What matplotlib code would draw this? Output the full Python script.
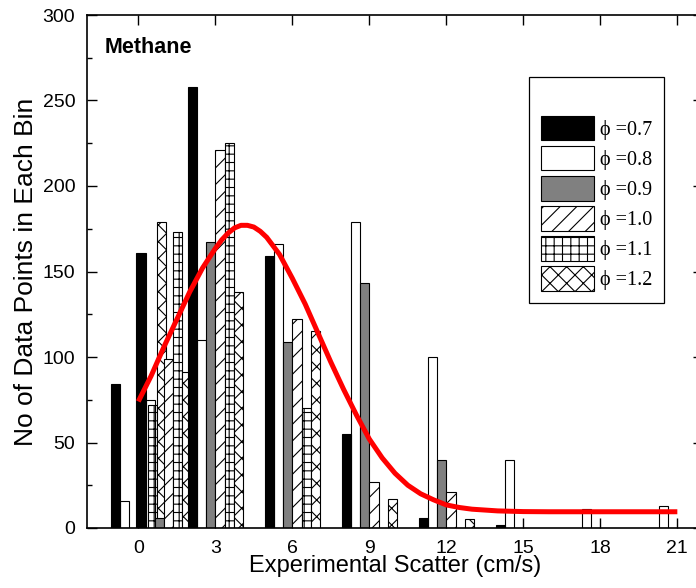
import matplotlib
matplotlib.use("Agg")
import matplotlib.pyplot as plt
from matplotlib.patches import Patch
import numpy as np

plt.rcParams['font.family'] = ['Liberation Sans', 'DejaVu Sans']
plt.rcParams['hatch.linewidth'] = 0.8

# ---- data ----
bins = [0, 1, 3, 6, 9, 12, 15, 18, 21]
series_labels = ["\u03d5 =0.7", "\u03d5 =0.8", "\u03d5 =0.9", "\u03d5 =1.0", "\u03d5 =1.1", "\u03d5 =1.2"]
phi07 = [84, 161, 258, 159, 55, 6, 2, 0, 0]
phi08 = [16, 75, 110, 166, 179, 100, 40, 11, 13]
phi09 = [0, 6, 167, 109, 143, 40, 0, 0, 0]
phi10 = [0, 99, 221, 122, 27, 21, 0, 0, 0]
phi11 = [72, 173, 225, 70, 0, 0, 0, 0, 0]
phi12 = [179, 91, 138, 115, 17, 5, 0, 0, 0]

fit_x = [0, 0.5, 1, 1.5, 2, 2.5, 3, 3.25, 3.5, 3.75, 4, 4.25, 4.5, 4.75, 5,
         5.5, 6, 6.5, 7, 7.5, 8, 8.5, 9, 9.5, 10, 10.5, 11, 11.5, 12, 12.5,
         13, 13.5, 14, 14.5, 15, 16, 17, 18, 19, 20, 21]
fit_y = [74, 89, 106, 122, 138, 152, 163.5, 168.5, 172.5, 175.5, 177, 177,
         176, 173.5, 170, 160, 146, 131, 114, 97, 81, 66, 52, 41, 32, 25, 20,
         16.5, 13.5, 12, 11, 10.5, 10, 9.8, 9.6, 9.5, 9.5, 9.5, 9.5, 9.5, 9.5]

xticks = [0, 3, 6, 9, 12, 15, 18, 21]

# ---- styles ----
series = [phi07, phi08, phi09, phi10, phi11, phi12]
faces = ['black', 'none', '#808080', 'white', 'white', 'white']
legend_faces = ['black', 'white', '#808080', 'white', 'white', 'white']
hatches = [None, None, None, '//', '++', 'xx']
width = 0.36

fig = plt.figure(figsize=(6.96, 5.88), dpi=100)
ax = fig.add_axes([87/696, 60/588, (703-87)/696, (528-15)/588])

nser = len(series)
for gi, b in enumerate(bins):
    for si in range(nser):
        v = series[si][gi]
        if v <= 0:
            continue
        ax.bar(b + (si - (nser - 1) / 2) * width, v, width=width,
               color=faces[si], edgecolor='black', linewidth=0.8,
               hatch=hatches[si], zorder=2)

ax.plot(fit_x, fit_y, color='#ff0000', lw=3.6, zorder=5,
        solid_capstyle='butt', solid_joinstyle='round')

ax.set_xlim(-2, 22)
ax.set_ylim(0, 300)
ax.set_xticks(xticks)
ax.set_yticks(np.arange(0, 301, 50))
ax.set_yticks(np.arange(25, 300, 50), minor=True)
ax.tick_params(which='major', direction='in', length=7, width=1.0,
               top=True, right=True, labelsize=14, pad=8.5)
ax.tick_params(which='minor', direction='in', length=3.5, width=1.0,
               right=True, left=True)
ax.tick_params(axis='x', which='minor', bottom=False, top=False)
for sp in ax.spines.values():
    sp.set_linewidth(1.2)

ax.set_xlabel("Experimental Scatter (cm/s)", fontsize=17, labelpad=-1)
ax.set_ylabel("No of Data Points in Each Bin", fontsize=19, labelpad=3)

ax.text(0.029, 0.926, "Methane", transform=ax.transAxes, fontsize=15.5,
        fontweight='bold', va='baseline', ha='left')

handles = [Patch(facecolor=legend_faces[i], edgecolor='black', hatch=hatches[i],
                 linewidth=0.8, label=series_labels[i]) for i in range(nser)]
leg = ax.legend(handles=handles, loc='upper right', bbox_to_anchor=(0.937, 0.879),
                borderaxespad=0, fancybox=False, shadow=False, framealpha=1,
                edgecolor='black', handlelength=2.63, handleheight=1.51,
                labelspacing=0.27, handletextpad=0.3, borderpad=0.6,
                title=" ", title_fontsize=16,
                prop={'family': ['Liberation Serif', 'DejaVu Serif'], 'size': 14.5})
leg.get_frame().set_linewidth(0.9)
leg.set_zorder(10)

fig.savefig("out.png", dpi=100)
